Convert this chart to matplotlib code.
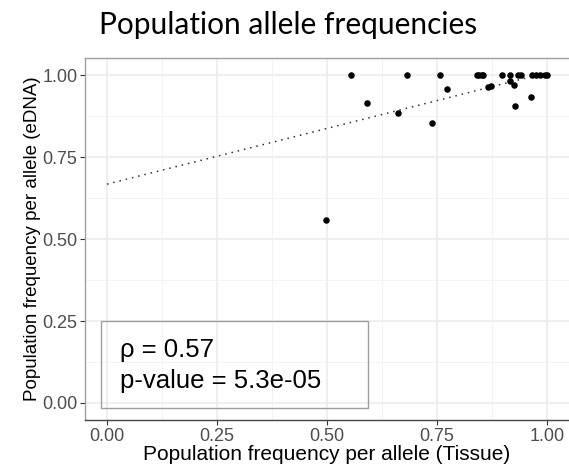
import numpy as np
import matplotlib
matplotlib.use("Agg")
import matplotlib.pyplot as plt
from matplotlib.patches import Rectangle

# allele frequencies
tissue = [0.497, 0.554, 0.590, 0.661, 0.681, 0.738, 0.757, 0.772,
          0.840, 0.846, 0.852, 0.855, 0.867, 0.872, 0.897, 0.917,
          0.917, 0.926, 0.927, 0.935, 0.942, 0.964, 0.965, 0.976,
          0.985, 0.995, 1.000]
edna = [0.560, 1.000, 0.915, 0.885, 1.000, 0.854, 1.000, 0.957,
        1.000, 1.000, 1.000, 1.000, 0.966, 0.967, 1.000, 1.000,
        0.983, 0.970, 0.906, 1.000, 1.000, 0.933, 1.000, 1.000,
        1.000, 1.000, 1.000]

# fitted line (intercept, slope)
fit_icpt = 0.668
fit_slope = 0.34

ticks = [0.0, 0.25, 0.5, 0.75, 1.0]
tick_labels = ["0.00", "0.25", "0.50", "0.75", "1.00"]
minor = [0.125, 0.375, 0.625, 0.875]

plt.rcParams['font.family'] = ['Liberation Sans', 'DejaVu Sans']

fig = plt.figure(figsize=(5.69, 4.71), dpi=100)
ax = fig.add_axes([85 / 569, 1 - 420 / 471, 484 / 569, 362 / 471])

ax.set_xlim(-0.05, 1.05)
ax.set_ylim(-0.052, 1.053)

for v in ticks:
    ax.axvline(v, color="#EBEBEB", lw=1.1, zorder=0)
    ax.axhline(v, color="#EBEBEB", lw=1.1, zorder=0)
for v in minor:
    ax.axvline(v, color="#F2F2F2", lw=0.6, zorder=0)
    ax.axhline(v, color="#F2F2F2", lw=0.6, zorder=0)

xs = np.array([0.0, 1.0])
ax.plot(xs, fit_icpt + fit_slope * xs, color="#333333", lw=1.1,
        linestyle=(0, (1, 3.2)), zorder=2)

ax.scatter(tissue, edna, s=22, color="black", zorder=3, linewidths=0)

# stats box
ax.add_patch(Rectangle((-0.014, -0.014), 0.608, 0.265, fill=False,
                       edgecolor="#9E9E9E", lw=1.0, zorder=4))
ax.text(0.03, 0.141, "\u03c1 = 0.57", fontsize=18.5, color="black",
        va="baseline", zorder=5)
ax.text(0.03, 0.045, "p-value = 5.3e-05", fontsize=18.5, color="black",
        va="baseline", zorder=5)

ax.set_xticks(ticks)
ax.set_xticklabels(tick_labels)
ax.set_yticks(ticks)
ax.set_yticklabels(tick_labels)
ax.tick_params(axis="both", labelsize=13, colors="#333333", length=3.5,
               width=0.8, pad=2)
ax.tick_params(axis="both", labelcolor="#4D4D4D")

for side in ["top", "left"]:
    ax.spines[side].set_color("#A0A0A0")
    ax.spines[side].set_linewidth(1.0)
ax.spines["bottom"].set_color("#444444")
ax.spines["bottom"].set_linewidth(1.0)
ax.spines["right"].set_visible(False)

ax.set_xlabel("Population frequency per allele (Tissue)", fontsize=15,
              labelpad=0)
ax.set_ylabel("Population frequency per allele (eDNA)", fontsize=13.5,
              labelpad=1)

fig.text(288 / 569, 1 - 25 / 471, "Population allele frequencies",
         fontsize=21.5, family=["Lato", "DejaVu Sans"], ha="center",
         va="center")

fig.savefig("out.png", dpi=100)
